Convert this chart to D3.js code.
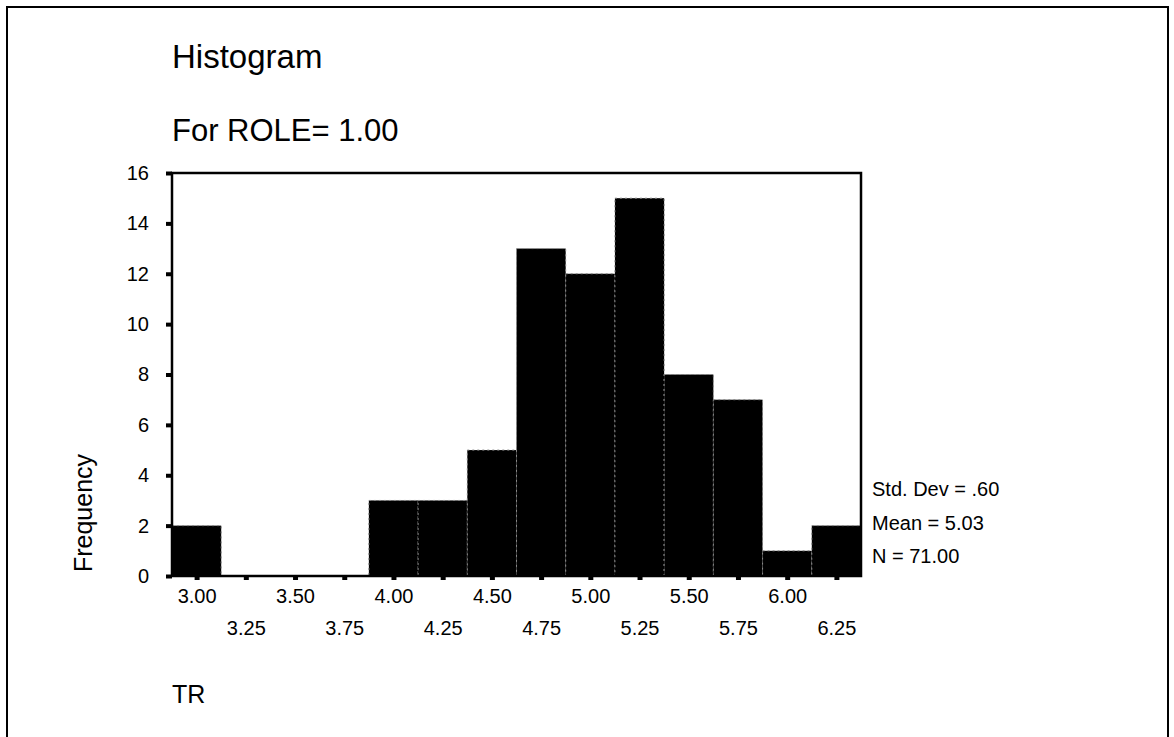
<!DOCTYPE html>
<html>
<head>
<meta charset="utf-8">
<script src="https://cdn.jsdelivr.net/npm/d3@7"></script>
<style>
  body { margin: 0; background: #fff; }
  svg text { font-family: "Liberation Sans", Arial, sans-serif; fill: #000; }
</style>
</head>
<body>
<svg id="chart" width="1174" height="737"></svg>
<script>
// bin centres and counts (TR, ROLE = 1.00)
const binCenters = [3.00, 3.25, 3.50, 3.75, 4.00, 4.25, 4.50, 4.75, 5.00, 5.25, 5.50, 5.75, 6.00, 6.25];
const counts     = [2, 0, 0, 0, 3, 3, 5, 13, 12, 15, 8, 7, 1, 2];
const yTicks     = [0, 2, 4, 6, 8, 10, 12, 14, 16];
const xTickLabels = ["3.00", "3.25", "3.50", "3.75", "4.00", "4.25", "4.50", "4.75",
                     "5.00", "5.25", "5.50", "5.75", "6.00", "6.25"];
const statLines  = ["Std. Dev = .60", "Mean = 5.03", "N = 71.00"];
const binWidth = 0.25;

const svg = d3.select("#chart");

// outer frame (bottom runs off the page)
svg.append("rect")
   .attr("x", 7).attr("y", 7)
   .attr("width", 1161).attr("height", 760)
   .attr("fill", "none").attr("stroke", "#000").attr("stroke-width", 2);

const plotLeft = 172, plotRight = 861, plotTop = 173, plotBottom = 576;

const x = d3.scaleLinear()
    .domain([binCenters[0] - binWidth / 2, binCenters[binCenters.length - 1] + binWidth / 2])
    .range([plotLeft, plotRight]);

const y = d3.scaleLinear()
    .domain([0, 16])
    .range([plotBottom, plotTop]);

// titles
svg.append("text").attr("x", 172).attr("y", 68)
   .style("font-size", "33px").text("Histogram");
svg.append("text").attr("x", 172).attr("y", 141)
   .style("font-size", "31px").text("For ROLE= 1.00");

// bars
const data = binCenters.map((c, i) => ({ c: c, n: counts[i] }));
svg.append("g").selectAll("rect")
   .data(data.filter(d => d.n > 0))
   .enter().append("rect")
   .attr("x", d => x(d.c - binWidth / 2))
   .attr("y", d => y(d.n))
   .attr("width", d => x(d.c + binWidth / 2) - x(d.c - binWidth / 2))
   .attr("height", d => y(0) - y(d.n))
   .attr("fill", "#000")
   .attr("stroke", "#8a8a8a")
   .attr("stroke-width", 1)
   .attr("stroke-dasharray", "2,3");

// plot frame
svg.append("rect")
   .attr("x", plotLeft).attr("y", plotTop)
   .attr("width", plotRight - plotLeft).attr("height", plotBottom - plotTop)
   .attr("fill", "none").attr("stroke", "#000").attr("stroke-width", 2.5);

// y axis
const yAxis = svg.append("g")
   .attr("transform", `translate(${plotLeft},0)`)
   .call(d3.axisLeft(y).tickValues(yTicks).tickSize(6).tickPadding(17).tickFormat(d3.format("d")));
yAxis.select(".domain").remove();
yAxis.selectAll(".tick line").attr("stroke-width", 4);
yAxis.selectAll(".tick text").style("font-size", "20px")
     .style("font-family", "'Liberation Sans', Arial, sans-serif");

// x axis, labels staggered on two rows
const xAxis = svg.append("g")
   .attr("transform", `translate(0,${plotBottom})`)
   .call(d3.axisBottom(x).tickValues(binCenters).tickSize(4).tickFormat((d, i) => xTickLabels[i]));
xAxis.select(".domain").remove();
xAxis.selectAll(".tick line").attr("stroke-width", 5);
xAxis.selectAll(".tick text")
     .style("font-size", "20px")
     .style("font-family", "'Liberation Sans', Arial, sans-serif")
     .attr("y", (d, i) => i % 2 === 0 ? 27 : 59)
     .attr("dy", 0);

// axis titles
svg.append("text")
   .attr("transform", "translate(92,513) rotate(-90)")
   .attr("text-anchor", "middle")
   .style("font-size", "25px").text("Frequency");
svg.append("text").attr("x", 172).attr("y", 703)
   .style("font-size", "25px").text("TR");

// summary stats
svg.append("g").selectAll("text")
   .data(statLines)
   .enter().append("text")
   .attr("x", 872)
   .attr("y", (d, i) => 496 + i * 33.5)
   .style("font-size", "20px")
   .text(d => d);
</script>
</body>
</html>
